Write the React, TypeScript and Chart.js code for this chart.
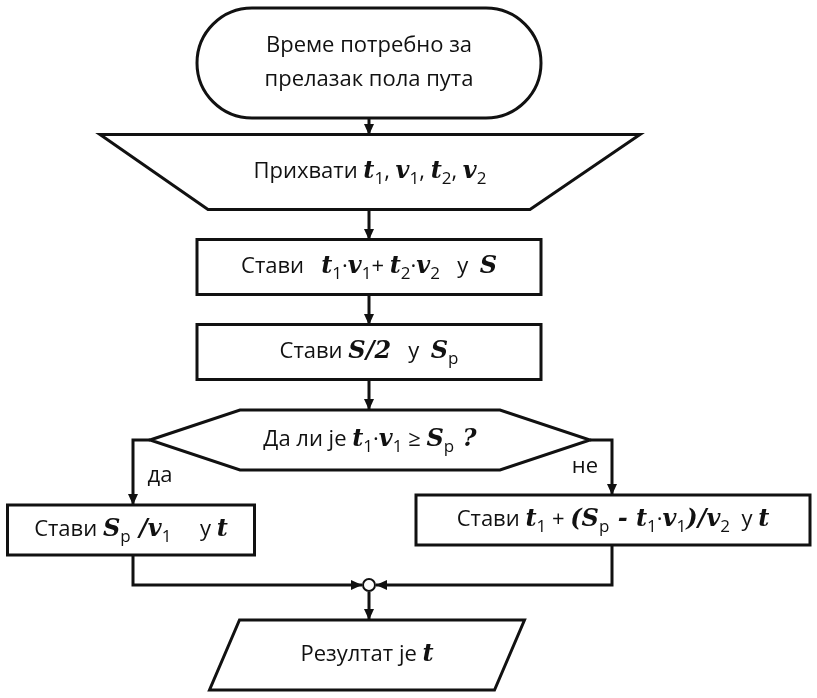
import { useEffect, useRef } from "react";
import { Chart, registerables, type Plugin } from "chart.js";

Chart.register(...registerables);

// ── Flowchart nodes (in diagram units: x 0–817, y 0–698 top-down) ────────────
type Seg = [string, "n" | "m" | "s"];
const nodeKind = ["term", "input", "rect", "rect", "decision", "rect", "rect", "output"];
const nodeCx = [369, 370, 369, 369, 370, 131, 613, 367];
const nodeCy = [63, 172, 267, 352, 440, 530, 520, 655];
const nodeW = [344, 540, 344, 344, 440, 247, 394, 285];
const nodeH = [110, 75, 55, 55, 60, 50, 50, 70];
const nodeText: Seg[][][] = [
  [[["Време потребно за", "n"]], [["прелазак пола пута", "n"]]],
  [[["Прихвати ", "n"], ["t", "m"], ["1", "s"], [", ", "n"], ["v", "m"], ["1", "s"], [", ", "n"], ["t", "m"], ["2", "s"], [", ", "n"], ["v", "m"], ["2", "s"]]],
  [[["Стави   ", "n"], ["t", "m"], ["1", "s"], ["·", "n"], ["v", "m"], ["1", "s"], ["+ ", "n"], ["t", "m"], ["2", "s"], ["·", "n"], ["v", "m"], ["2", "s"], ["   у  ", "n"], ["S", "m"]]],
  [[["Стави ", "n"], ["S/2", "m"], ["   у  ", "n"], ["S", "m"], ["p", "s"]]],
  [[["Да ли је ", "n"], ["t", "m"], ["1", "s"], ["·", "n"], ["v", "m"], ["1", "s"], [" ≥ ", "n"], ["S", "m"], ["p", "s"], [" ?", "m"]]],
  [[["Стави ", "n"], ["S", "m"], ["p", "s"], [" /", "m"], ["v", "m"], ["1", "s"], ["     у ", "n"], ["t", "m"]]],
  [[["Стави ", "n"], ["t", "m"], ["1", "s"], [" + ", "n"], ["(", "m"], ["S", "m"], ["p", "s"], [" - ", "m"], ["t", "m"], ["1", "s"], ["·", "n"], ["v", "m"], ["1", "s"], [")/", "m"], ["v", "m"], ["2", "s"], ["  у ", "n"], ["t", "m"]]],
  [[["Резултат је ", "n"], ["t", "m"]]],
];

// connectors: polylines, last point gets an arrow head
const links: [number, number][][] = [
  [[369, 118], [369, 135]],
  [[369, 210], [369, 240]],
  [[369, 295], [369, 325]],
  [[369, 380], [369, 410]],
  [[150, 440], [133, 440], [133, 505]],
  [[590, 440], [612, 440], [612, 495]],
  [[133, 555], [133, 585], [362, 585]],
  [[612, 545], [612, 585], [376, 585]],
  [[369, 592], [369, 620]],
];
const junction: [number, number] = [369, 585];
const branchLabels: [string, number, number][] = [["да", 160, 476], ["не", 585, 467]];

const INK = "#111";
const NFONT = "Open Sans, sans-serif";
const MFONT = "DejaVu Serif, serif";

const flowPlugin: Plugin = {
  id: "flow",
  afterDraw(chart) {
    const { ctx } = chart;
    const sx = chart.scales.x, sy = chart.scales.y;
    const X = (v: number) => sx.getPixelForValue(v);
    const Y = (v: number) => sy.getPixelForValue(v);
    ctx.save();
    ctx.strokeStyle = INK;
    ctx.fillStyle = INK;
    ctx.lineWidth = 3;
    ctx.lineJoin = "miter";

    const poly = (pts: [number, number][]) => {
      ctx.beginPath();
      pts.forEach(([a, b], i) => (i ? ctx.lineTo(X(a), Y(b)) : ctx.moveTo(X(a), Y(b))));
      ctx.closePath();
      ctx.stroke();
    };

    nodeKind.forEach((k, i) => {
      const cx = nodeCx[i], cy = nodeCy[i], w = nodeW[i], h = nodeH[i];
      const l = cx - w / 2, r = cx + w / 2, t = cy - h / 2, b = cy + h / 2;
      if (k === "term") {
        ctx.beginPath();
        ctx.roundRect(X(l), Y(t), X(r) - X(l), Y(b) - Y(t), (Y(b) - Y(t)) / 2);
        ctx.stroke();
      } else if (k === "rect") {
        poly([[l, t], [r, t], [r, b], [l, b]]);
      } else if (k === "input") {
        poly([[l, t], [r, t], [r - 110, b], [l + 108, b]]);
      } else if (k === "decision") {
        poly([[l, cy], [l + 90, t], [r - 90, t], [r, cy], [r - 90, b], [l + 90, b]]);
      } else if (k === "output") {
        poly([[l + 15, t], [r + 15, t], [r - 15, b], [l - 15, b]]);
      }
      // text
      const lines = nodeText[i];
      lines.forEach((segs, li) => {
        const ly = Y(cy + (li - (lines.length - 1) / 2) * 34);
        const font = (s: Seg) =>
          s[1] === "n" ? `22px ${NFONT}` : s[1] === "m" ? `italic bold 24px ${MFONT}` : `17px ${NFONT}`;
        let total = 0;
        segs.forEach((s) => { ctx.font = font(s); total += ctx.measureText(s[0]).width; });
        let x = X(cx) - total / 2;
        ctx.textBaseline = "middle";
        ctx.textAlign = "left";
        segs.forEach((s) => {
          ctx.font = font(s);
          ctx.fillText(s[0], x, ly + (s[1] === "s" ? 7 : 0));
          x += ctx.measureText(s[0]).width;
        });
      });
    });

    links.forEach((pts) => {
      ctx.beginPath();
      pts.forEach(([a, b], i) => (i ? ctx.lineTo(X(a), Y(b)) : ctx.moveTo(X(a), Y(b))));
      ctx.stroke();
      const [ax, ay] = pts[pts.length - 1];
      const [px, py] = pts[pts.length - 2];
      const ang = Math.atan2(Y(ay) - Y(py), X(ax) - X(px));
      ctx.beginPath();
      ctx.moveTo(X(ax), Y(ay));
      ctx.lineTo(X(ax) - 11 * Math.cos(ang) + 5 * Math.sin(ang), Y(ay) - 11 * Math.sin(ang) - 5 * Math.cos(ang));
      ctx.lineTo(X(ax) - 11 * Math.cos(ang) - 5 * Math.sin(ang), Y(ay) - 11 * Math.sin(ang) + 5 * Math.cos(ang));
      ctx.closePath();
      ctx.fill();
    });

    ctx.lineWidth = 2;
    ctx.beginPath();
    ctx.arc(X(junction[0]), Y(junction[1]), 6, 0, Math.PI * 2);
    ctx.fillStyle = "#fff";
    ctx.fill();
    ctx.stroke();

    ctx.fillStyle = INK;
    ctx.font = `22px ${NFONT}`;
    ctx.textAlign = "center";
    branchLabels.forEach(([s, a, b]) => ctx.fillText(s, X(a), Y(b)));
    ctx.restore();
  },
};

export default function App() {
  const canvasRef = useRef<HTMLCanvasElement>(null);

  useEffect(() => {
    document.body.style.margin = "0";
    const canvas = canvasRef.current;
    if (!canvas) return;
    const chart = new Chart(canvas, {
      type: "scatter",
      plugins: [flowPlugin],
      data: {
        datasets: [{ data: nodeCx.map((x, i) => ({ x, y: nodeCy[i] })), pointRadius: 0 }],
      },
      options: {
        responsive: true,
        maintainAspectRatio: false,
        animation: false,
        layout: { padding: 0 },
        plugins: { legend: { display: false }, tooltip: { enabled: false } },
        scales: {
          x: { type: "linear", min: 0, max: 817, display: false },
          y: { type: "linear", min: 0, max: 698, reverse: true, display: false },
        },
      },
    });
    return () => chart.destroy();
  }, []);

  return (
    <div style={{ width: 817, height: 698, background: "#fff" }}>
      <canvas ref={canvasRef} style={{ display: "block" }} />
    </div>
  );
}
